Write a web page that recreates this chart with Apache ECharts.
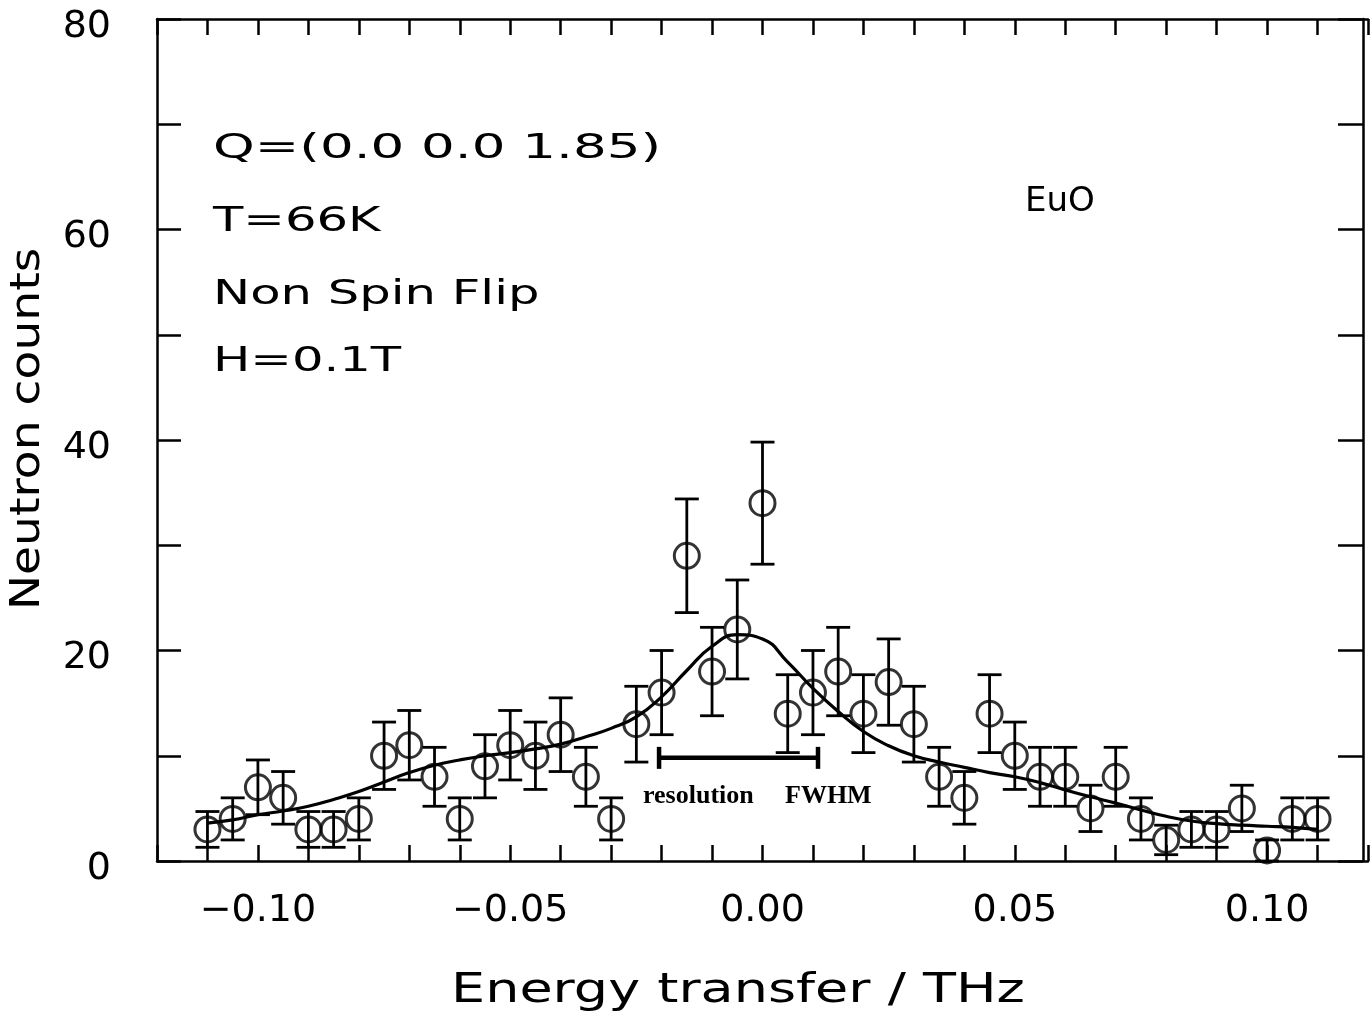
<!DOCTYPE html>
<html>
<head>
<meta charset="utf-8">
<title>EuO neutron scattering</title>
<script src="https://cdn.jsdelivr.net/npm/echarts@6/dist/echarts.min.js"></script>
<style>
  html, body { margin: 0; padding: 0; background: #fff; }
  #chart { width: 1371px; height: 1013px; }
</style>
</head>
<body>
<div id="chart"></div>
<script>
// Energy transfer (THz) of each measured point
const energy = [
  -0.110, -0.105, -0.100, -0.095, -0.090, -0.085, -0.080, -0.075, -0.070, -0.065,
  -0.060, -0.055, -0.050, -0.045, -0.040, -0.035, -0.030, -0.025, -0.020, -0.015,
  -0.010, -0.005, 0.000, 0.005, 0.010, 0.015, 0.020, 0.025, 0.030, 0.035,
  0.040, 0.045, 0.050, 0.055, 0.060, 0.065, 0.070, 0.075, 0.080, 0.085,
  0.090, 0.095, 0.100, 0.105, 0.110
];
// Neutron counts at each energy transfer
const counts = [
  3, 4, 7, 6, 3, 3, 4, 10, 11, 8,
  4, 9, 11, 10, 12, 8, 4, 13, 16, 29,
  18, 22, 34, 14, 16, 18, 14, 17, 13, 8,
  6, 14, 10, 8, 8, 5, 8, 4, 2, 3,
  3, 5, 1, 4, 4
];
// Statistical error of each count
const errors = [
  1.7, 2.0, 2.6, 2.5, 1.7, 1.7, 2.0, 3.2, 3.3, 2.8,
  2.0, 3.0, 3.3, 3.2, 3.5, 2.8, 2.0, 3.6, 4.0, 5.4,
  4.2, 4.7, 5.8, 3.7, 4.0, 4.2, 3.7, 4.1, 3.6, 2.8,
  2.5, 3.7, 3.2, 2.8, 2.8, 2.2, 2.8, 2.0, 1.4, 1.7,
  1.7, 2.2, 1.0, 2.0, 2.0
];
// Fitted line shape, sampled on the same energy grid
const fitCurve = [
  3.6, 3.9, 4.4, 4.75, 5.2, 5.85, 6.6, 7.5, 8.4, 9.1,
  9.6, 10.0, 10.3, 10.65, 11.1, 11.8, 12.6, 13.7, 15.6, 18.1,
  20.4, 21.5, 21.1, 18.9, 16.4, 14.2, 12.3, 10.95, 10.0, 9.4,
  8.9, 8.4, 8.0, 7.45, 6.75, 6.1, 5.5, 4.85, 4.25, 3.8,
  3.55, 3.4, 3.3, 3.2, 3.0
];
// Instrumental resolution (FWHM) bar: start, end, height
const resolutionFWHM = [-0.0205, 0.011, 9.8];

// Tick labels
const xTickLabels = ['\u22120.10', '\u22120.05', '0.00', '0.05', '0.10'];
const yTickLabels = ['0', '20', '40', '60', '80'];

const chart = echarts.init(document.getElementById('chart'), null, { renderer: 'canvas' });

const pointData = energy.map((e, i) => [e, counts[i]]);
const errorData = energy.map((e, i) => [e, counts[i] - errors[i], counts[i] + errors[i]]);
const fitData = energy.map((e, i) => [e, fitCurve[i]]);

const INK = '#000';
const axisFont = 'DejaVu Sans';

function xLabel(v) {
  const k = Math.round(v * 100);
  if (k % 5 !== 0) return '';
  const idx = k / 5 + 2;
  return xTickLabels[idx] || '';
}
function yLabel(v) {
  const k = Math.round(v);
  if (k % 20 !== 0) return '';
  return yTickLabels[k / 20] || '';
}

const option = {
  animation: false,
  backgroundColor: '#fff',
  grid: { left: 157, right: -2, top: 19, bottom: 152, containLabel: false },
  xAxis: [
    {
      type: 'value', position: 'bottom', min: -0.12, max: 0.12, interval: 0.01,
      axisLine: { show: true, onZero: false, lineStyle: { color: INK, width: 2.5 } },
      axisTick: { show: true, inside: true, length: 16, lineStyle: { color: INK, width: 2.5 } },
      axisLabel: { formatter: xLabel, color: INK, fontFamily: axisFont, fontSize: 38, margin: 31, showMinLabel: true, showMaxLabel: true },
      splitLine: { show: false }
    },
    {
      type: 'value', position: 'top', min: -0.12, max: 0.12, interval: 0.01,
      axisLine: { show: true, onZero: false, lineStyle: { color: INK, width: 2.5 } },
      axisTick: { show: true, inside: true, length: 16, lineStyle: { color: INK, width: 2.5 } },
      axisLabel: { show: false },
      splitLine: { show: false }
    }
  ],
  yAxis: [
    {
      type: 'value', position: 'left', min: 0, max: 80, interval: 10,
      axisLine: { show: true, onZero: false, lineStyle: { color: INK, width: 2.5 } },
      axisTick: { show: true, inside: true, length: 24, lineStyle: { color: INK, width: 2.5 } },
      axisLabel: { formatter: yLabel, color: INK, fontFamily: axisFont, fontSize: 38, margin: 46, verticalAlign: 'top', lineHeight: 16 },
      splitLine: { show: false }
    },
    {
      type: 'value', position: 'right', offset: -5, min: 0, max: 80, interval: 10,
      axisLine: { show: true, onZero: false, lineStyle: { color: INK, width: 2.5 } },
      axisTick: { show: true, inside: true, length: 25, lineStyle: { color: INK, width: 2.5 } },
      axisLabel: { show: false },
      splitLine: { show: false }
    }
  ],
  series: [
    {
      name: 'fit', type: 'line', data: fitData, smooth: 0.5, symbol: 'none',
      lineStyle: { color: INK, width: 3.2 }, z: 2
    },
    {
      name: 'error', type: 'custom', data: errorData, z: 3,
      renderItem: function (params, api) {
        const x = api.value(0);
        const lo = api.coord([x, api.value(1)]);
        const hi = api.coord([x, api.value(2)]);
        const cap = 12;
        const st = { stroke: INK, lineWidth: 2.8 };
        return {
          type: 'group',
          children: [
            { type: 'line', shape: { x1: lo[0], y1: lo[1], x2: hi[0], y2: hi[1] }, style: st },
            { type: 'line', shape: { x1: lo[0] - cap, y1: lo[1], x2: lo[0] + cap, y2: lo[1] }, style: st },
            { type: 'line', shape: { x1: hi[0] - cap, y1: hi[1], x2: hi[0] + cap, y2: hi[1] }, style: st }
          ]
        };
      }
    },
    {
      name: 'counts', type: 'scatter', data: pointData, symbol: 'circle', symbolSize: 25, z: 4,
      itemStyle: { color: 'rgba(0,0,0,0)', borderColor: INK, borderWidth: 3 }
    },
    {
      name: 'resolution', type: 'custom', z: 3,
      data: [resolutionFWHM],
      renderItem: function (params, api) {
        const a = api.coord([api.value(0), api.value(2)]);
        const b = api.coord([api.value(1), api.value(2)]);
        const h = 11;
        const st = { stroke: INK, lineWidth: 4.5 };
        return {
          type: 'group',
          children: [
            { type: 'line', shape: { x1: a[0], y1: a[1], x2: b[0], y2: b[1] }, style: st },
            { type: 'line', shape: { x1: a[0], y1: a[1] - h, x2: a[0], y2: a[1] + h }, style: st },
            { type: 'line', shape: { x1: b[0], y1: b[1] - h, x2: b[0], y2: b[1] + h }, style: st }
          ]
        };
      }
    }
  ],
  graphic: [
    { type: 'text', x: 213, y: 149, scaleX: 1.56, style: { text: 'Q=(0.0 0.0 1.85)', font: '34px "DejaVu Sans"', fill: INK, textAlign: 'left', textVerticalAlign: 'middle' } },
    { type: 'text', x: 213, y: 222, scaleX: 1.46, style: { text: 'T=66K', font: '34px "DejaVu Sans"', fill: INK, textAlign: 'left', textVerticalAlign: 'middle' } },
    { type: 'text', x: 213, y: 295, scaleX: 1.46, style: { text: 'Non Spin Flip', font: '34px "DejaVu Sans"', fill: INK, textAlign: 'left', textVerticalAlign: 'middle' } },
    { type: 'text', x: 213, y: 362, scaleX: 1.46, style: { text: 'H=0.1T', font: '34px "DejaVu Sans"', fill: INK, textAlign: 'left', textVerticalAlign: 'middle' } },
    { type: 'text', x: 1025, y: 202, scaleX: 1.0, style: { text: 'EuO', font: '34px "DejaVu Sans"', fill: INK, textAlign: 'left', textVerticalAlign: 'middle' } },
    { type: 'text', x: 643, y: 796, style: { text: 'resolution', font: 'bold 26px "Liberation Serif"', fill: INK, textAlign: 'left', textVerticalAlign: 'middle' } },
    { type: 'text', x: 785, y: 796, style: { text: 'FWHM', font: 'bold 26px "Liberation Serif"', fill: INK, textAlign: 'left', textVerticalAlign: 'middle' } },
    { type: 'text', x: 738, y: 992, scaleX: 1.35, style: { text: 'Energy transfer / THz', font: '40px "DejaVu Sans"', fill: INK, textAlign: 'center', textVerticalAlign: 'middle' } },
    { type: 'text', x: 29, y: 429, rotation: Math.PI / 2, scaleX: 1.18, style: { text: 'Neutron counts', font: '40px "DejaVu Sans"', fill: INK, textAlign: 'center', textVerticalAlign: 'middle' } }
  ]
};

chart.setOption(option);
</script>
</body>
</html>
